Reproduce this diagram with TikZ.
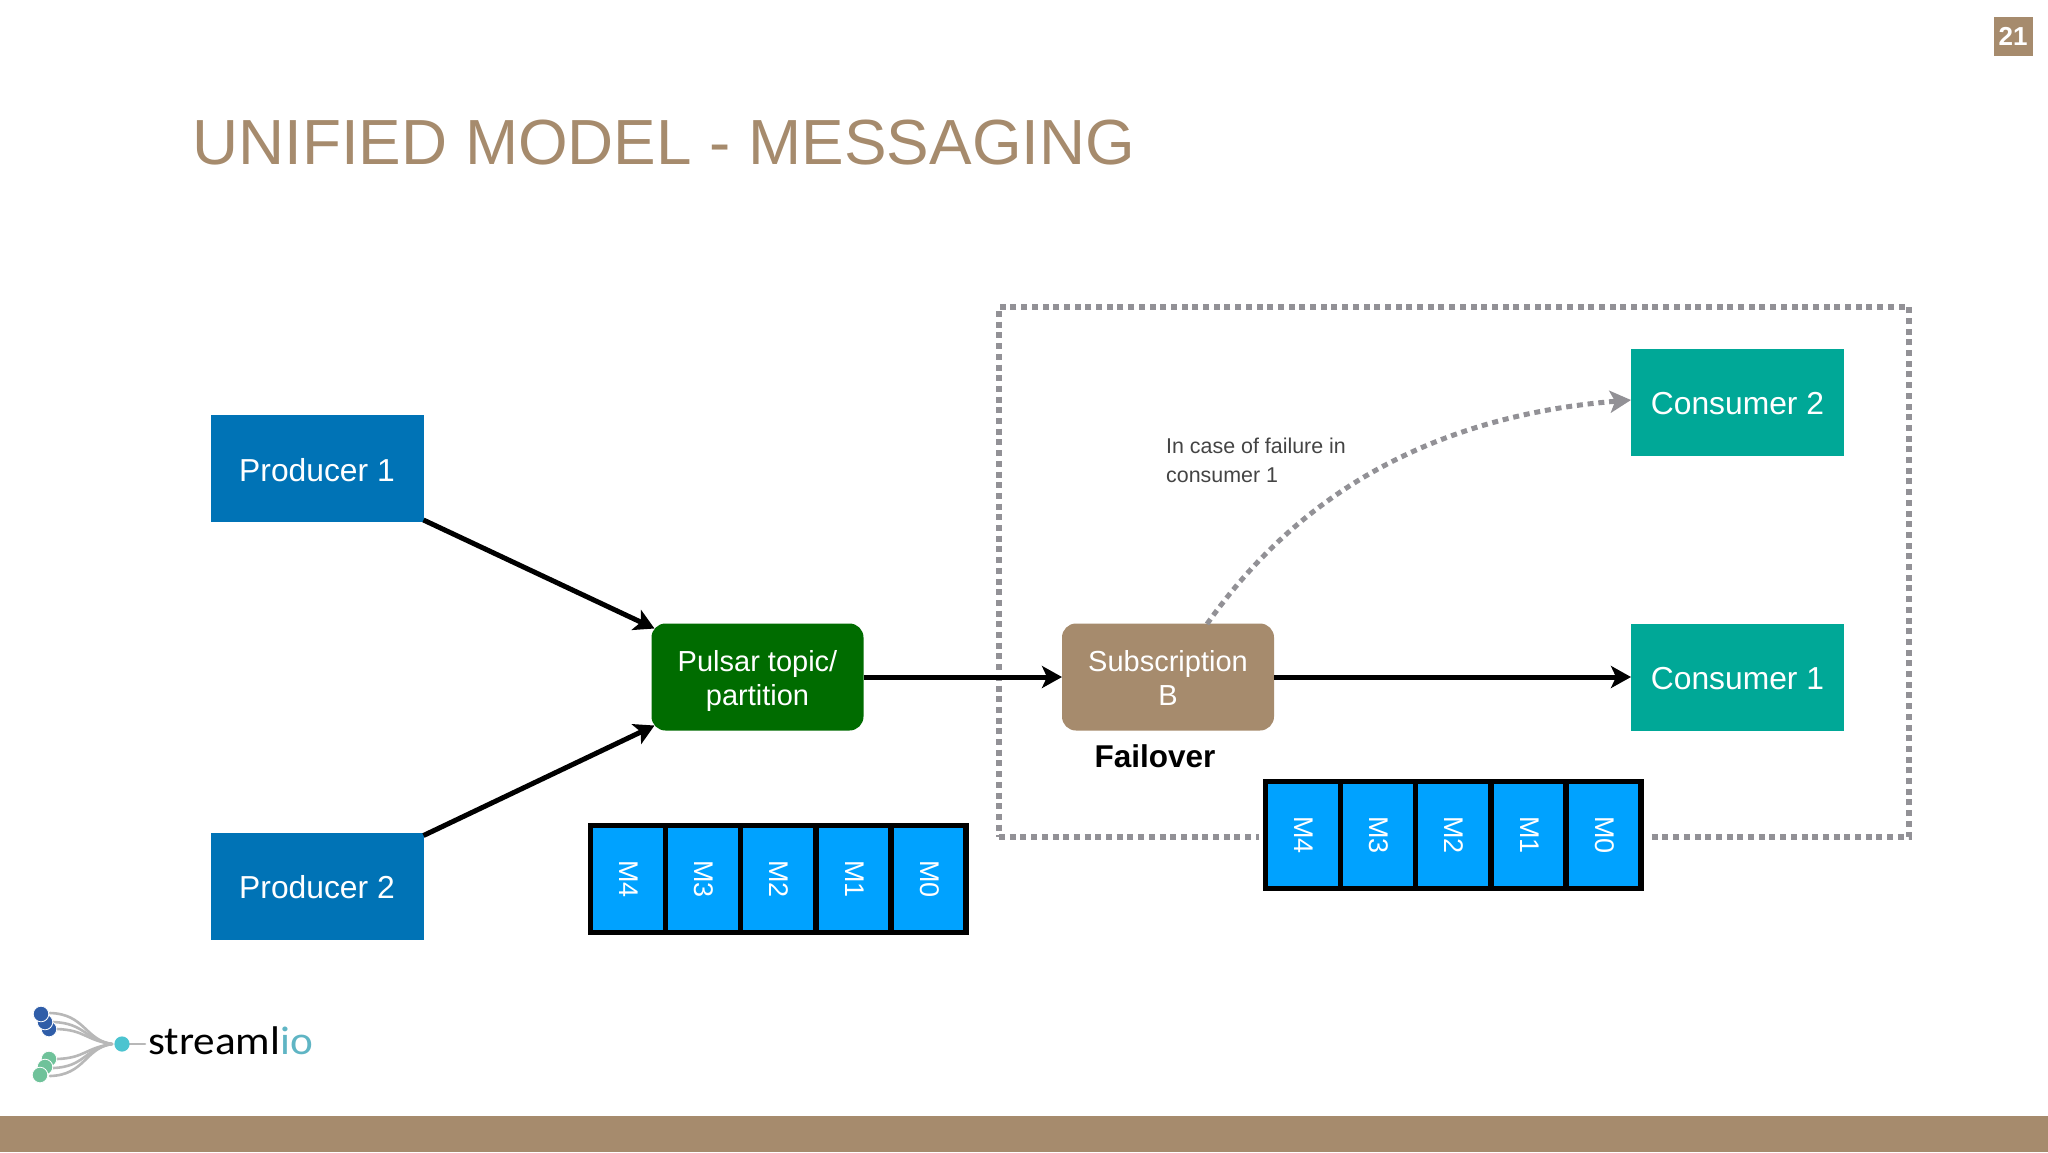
\documentclass[tikz,border=0pt]{standalone}
\usepackage{fontspec}
\setmainfont{Liberation Sans}
\newfontfamily\logofont{Carlito}
\usetikzlibrary{arrows.meta}
\definecolor{tan}{HTML}{A68B6D}
\definecolor{probl}{HTML}{0073B6}
\definecolor{pulgr}{HTML}{006C00}
\definecolor{teal2}{HTML}{00A897}
\definecolor{cellbl}{HTML}{00A2FF}
\definecolor{dotgr}{HTML}{929196}
\definecolor{notegr}{HTML}{444444}
\definecolor{logoteal}{HTML}{5FB5C4}
\definecolor{logoblue}{HTML}{2F5DA8}
\definecolor{logogreen}{HTML}{6FC29A}
\newcommand{\topline}{\rule{0pt}{33.8pt}}
\tikzset{
  x=1pt,y=-1pt,
  solidbox/.style={inner sep=0pt,outer sep=0pt,minimum width=213,minimum height=107,text=white,align=center,
    text height=25pt,text depth=0pt,font=\fontsize{31.8}{34}\selectfont},
  roundbox/.style={inner sep=0pt,outer sep=0pt,minimum width=212,minimum height=107,text=white,align=center,
    rounded corners=14pt,font=\fontsize{29}{34}\selectfont},
  flow/.style={line width=5pt,black,-{Stealth[length=20pt,width=22pt,inset=5pt]}},
  failflow/.style={line width=5pt,dotgr,dash pattern=on 6pt off 4.8pt,-{Stealth[length=21pt,width=22pt,inset=5pt]}},
  qframe/.style={inner sep=0pt,outer sep=0pt,fill=black,draw=white,line width=4pt,minimum width=385,minimum height=116},
  qcell/.style={inner sep=0pt,outer sep=0pt,fill=cellbl,text=white,rotate=-90,minimum width=102,minimum height=69.5,
    text height=16.5pt,text depth=0pt,font=\fontsize{27}{27}\selectfont},
  logoline/.style={draw=black!28,line width=2.6pt,line cap=round},
}
\begin{document}
\begin{tikzpicture}
\useasboundingbox (0,0) rectangle (2048,1152);
\fill[white] (0,0) rectangle (2048,1152);
% footer and page number
\node[fill=tan,inner sep=0pt,minimum width=2048,minimum height=36] (footer) at (1024,1134) {};
\node[fill=tan,inner sep=0pt,minimum width=39,minimum height=39,text=white,font=\fontsize{26}{26}\selectfont\bfseries] (page) at (2013,36) {21};
% title
\node[anchor=base west,inner sep=0pt,text=tan,font=\fontsize{63.8}{64}\selectfont] (title) at (192,164) {UNIFIED MODEL - MESSAGING};
% dotted frame
\node[draw=dotgr,line width=5.3pt,dash pattern=on 6pt off 4.7pt,inner sep=0pt,minimum width=910,minimum height=530] (scopebox) at (1454,572) {};
% boxes
\node[solidbox,fill=probl] (p1) at (317,468.5) {Producer 1};
\node[solidbox,fill=probl] (p2) at (317,886) {Producer 2};
\node[roundbox,fill=pulgr] (pulsar) at (757.5,677) {\topline Pulsar topic/\\\strut partition};
\node[roundbox,fill=tan] (sub) at (1168,677) {\topline Subscription\\\strut B};
\node[solidbox,fill=teal2] (c1) at (1737.5,677) {Consumer 1};
\node[solidbox,fill=teal2,text height=23pt] (c2) at (1737.5,402.5) {Consumer 2};
% connectors
\draw[flow] ([yshift=2pt]p1.south east) -- ([xshift=3pt,yshift=-5pt]pulsar.north west);
\draw[flow] ([yshift=-3pt]p2.north east) -- ([xshift=3pt,yshift=5pt]pulsar.south west);
\draw[flow] (pulsar.east) -- (sub.west);
\draw[flow] (sub.east) -- (c1.west);
\coordinate (failstart) at (1207,624);
\draw[failflow] (failstart) .. controls (1305,485) and (1445,415) .. ([yshift=2.5pt]c2.west);
% labels
\node[anchor=base,inner sep=0pt,font=\fontsize{31.5}{32}\selectfont\bfseries] (fail) at (1155,767) {Failover};
\node[anchor=north west,inner sep=0pt,align=left,text=notegr,font=\fontsize{21.4}{28.5}\selectfont] (note) at (1166,438) {In case of failure in\\consumer 1};
% queues
\node[qframe] (qa) at (778,879) {};
\node[qframe] (qb) at (1453.5,835) {};
\foreach \i/\m in {0/M4,1/M3,2/M2,3/M1,4/M0}{
  \node[qcell] (qa\m) at (628+75.1*\i,879) {\m};
  \node[qcell] (qb\m) at (1303+75.1*\i,835) {\m};
}
% logo
\foreach \ya/\xa in {1013/50,1022/53,1029/57}{
  \draw[logoline] (\xa,\ya) .. controls (85,\ya+1) and (85,1040) .. (112,1044);
}
\foreach \ya/\xa in {1076/50,1068/53,1059/57}{
  \draw[logoline] (\xa,\ya) .. controls (85,\ya-1) and (85,1048) .. (112,1044);
}
\draw[logoline] (122,1044) -- (145,1044);
\foreach \cx/\cy in {49/1029,45/1022,41/1014}{
  \fill[logoblue,draw=white,line width=0.8pt] (\cx,\cy) circle (7.8);
}
\foreach \cx/\cy in {49/1059,45/1067,40/1075}{
  \fill[logogreen,draw=white,line width=0.8pt] (\cx,\cy) circle (7.8);
}
\fill[logoteal!80!cyan] (122,1044) circle (7.6);
\node[anchor=base west,inner sep=0pt,xscale=1.08,font=\logofont\fontsize{40}{40}\selectfont] (logo) at (148,1054) {streaml\textcolor{logoteal}{io}};
\end{tikzpicture}
\end{document}
